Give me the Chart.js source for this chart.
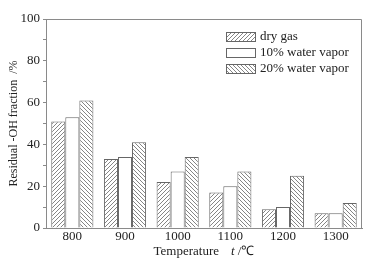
<!DOCTYPE html>
<html>
<head>
<meta charset="utf-8">
<script src="https://cdn.jsdelivr.net/npm/chart.js@4"></script>
<style>
  body { margin: 0; background: #fff; }
  canvas { display: block; }
</style>
</head>
<body>
<canvas id="chart" width="377" height="264"></canvas>
<script>
// data
const temperatures = ['800', '900', '1000', '1100', '1200', '1300'];
const dryGas = [51, 33, 22, 17, 9, 7];
const water10 = [53, 34, 27, 20, 10, 7];
const water20 = [61, 41, 34, 27, 25, 12];
const seriesLabels = ['dry gas', '10% water vapor', '20% water vapor'];
const yTicks = [0, 20, 40, 60, 80, 100];

const FONT = "'Liberation Serif', 'Times New Roman', serif";
const LINE = '#666';
const AXIS = '#8a8a8a';

// hatch patterns, dir 1 = "/" and -1 = "\"
function hatch(dir) {
  const c = document.createElement('canvas');
  c.width = 4; c.height = 4;
  const g = c.getContext('2d');
  g.fillStyle = '#fff';
  g.fillRect(0, 0, 4, 4);
  g.strokeStyle = '#777';
  g.lineWidth = 0.9;
  g.beginPath();
  if (dir > 0) {
    g.moveTo(-1, 1); g.lineTo(1, -1);
    g.moveTo(0, 4); g.lineTo(4, 0);
    g.moveTo(3, 5); g.lineTo(5, 3);
  } else {
    g.moveTo(-1, 3); g.lineTo(1, 5);
    g.moveTo(0, 0); g.lineTo(4, 4);
    g.moveTo(3, -1); g.lineTo(5, 1);
  }
  g.stroke();
  return g.createPattern(c, 'repeat');
}

const ctx = document.getElementById('chart').getContext('2d');
const fills = [hatch(1), '#fff', hatch(-1)];

// frame on top/right, legend inside the plot and the x title with italic t
const extras = {
  id: 'extras',
  afterDraw(chart) {
    const a = chart.chartArea;
    const c = chart.ctx;
    c.save();
    c.strokeStyle = AXIS;
    c.lineWidth = 1;
    c.beginPath();
    c.moveTo(a.left, a.top + 0.5);
    c.lineTo(a.right - 0.5, a.top + 0.5);
    c.lineTo(a.right - 0.5, a.bottom);
    c.stroke();

    // legend
    chart.data.datasets.forEach((ds, i) => {
      const y = 32 + i * 16;
      c.fillStyle = ds.backgroundColor;
      c.fillRect(226, y, 30, 10);
      c.strokeStyle = LINE;
      c.strokeRect(226.5, y + 0.5, 29, 9);
      c.fillStyle = '#222';
      c.font = '13px ' + FONT;
      c.textBaseline = 'middle';
      c.textAlign = 'left';
      c.fillText(ds.label, 260, y + 5);
    });

    // x title
    c.fillStyle = '#222';
    c.textBaseline = 'middle';
    c.textAlign = 'left';
    const p1 = 'Temperature';
    const p3 = ' /\u2103';
    c.font = '13px ' + FONT;
    const w1 = c.measureText(p1).width;
    const w3 = c.measureText(p3).width;
    c.font = 'italic 13px ' + FONT;
    const w2 = c.measureText('t').width;
    const gap = 12;
    let x = (a.left + a.right) / 2 - (w1 + gap + w2 + w3) / 2;
    c.font = '13px ' + FONT;
    c.fillText(p1, x, 252);
    x += w1 + gap;
    c.font = 'italic 13px ' + FONT;
    c.fillText('t', x, 252);
    x += w2;
    c.font = '13px ' + FONT;
    c.fillText(p3, x, 252);
    c.restore();
  }
};

new Chart(ctx, {
  type: 'bar',
  data: {
    labels: temperatures,
    datasets: [dryGas, water10, water20].map((d, i) => ({
      label: seriesLabels[i],
      data: d,
      backgroundColor: fills[i],
      borderColor: LINE,
      borderWidth: 1,
      barPercentage: 1,
      categoryPercentage: 0.8,
    })),
  },
  options: {
    responsive: false,
    devicePixelRatio: 1,
    animation: false,
    layout: { padding: { left: 0, top: 19, right: 15, bottom: 0 } },
    plugins: {
      legend: { display: false },
      tooltip: { enabled: false },
    },
    scales: {
      x: {
        grid: { display: false, drawTicks: false },
        border: { display: true, color: AXIS, width: 1 },
        ticks: { color: '#222', padding: 1, font: { family: FONT, size: 13 } },
        afterFit: (s) => { s.height = 36; },
      },
      y: {
        min: 0,
        max: 100,
        grid: { drawOnChartArea: false, tickLength: 3, color: AXIS },
        border: { display: true, color: AXIS, width: 1 },
        ticks: {
          stepSize: 10,
          padding: 3,
          color: '#222',
          font: { family: FONT, size: 13 },
          callback: (v) => (yTicks.includes(v) ? v : ''),
        },
        title: {
          display: true,
          text: 'Residual -OH fraction  /%',
          color: '#222',
          padding: { top: 7, bottom: 0 },
          font: { family: FONT, size: 12 },
        },
        afterFit: (s) => { s.width = 46; },
      },
    },
  },
  plugins: [extras],
});
</script>
</body>
</html>
